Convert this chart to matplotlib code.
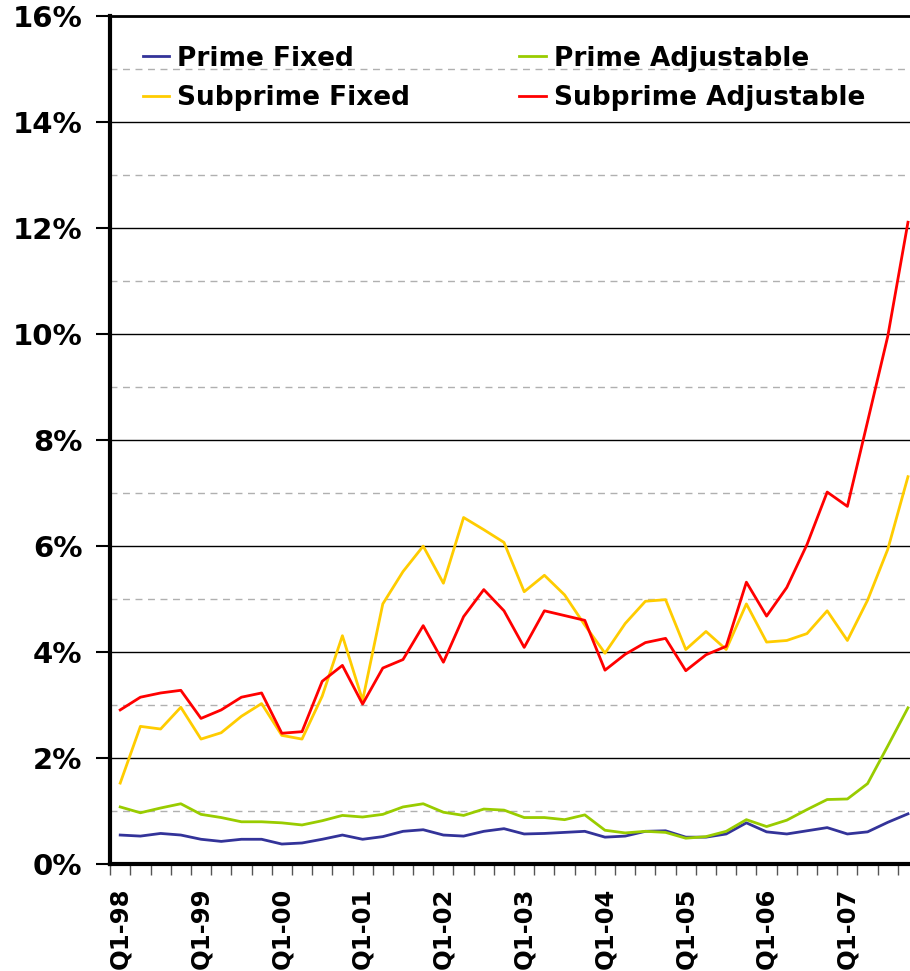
import numpy as np
import matplotlib
matplotlib.use("Agg")
import matplotlib.pyplot as plt
from matplotlib.ticker import FixedLocator, PercentFormatter

# quarterly delinquency rates (%), Q1-98 .. Q4-07
quarters = [f"Q{q}-{y % 100:02d}" for y in range(1998, 2008) for q in range(1, 5)]

prime_fixed = [0.55, 0.53, 0.58, 0.55, 0.47, 0.43, 0.47, 0.47, 0.38, 0.40,
               0.47, 0.55, 0.47, 0.52, 0.62, 0.65, 0.55, 0.53, 0.62, 0.67,
               0.57, 0.58, 0.60, 0.62, 0.51, 0.53, 0.62, 0.63, 0.51, 0.51,
               0.57, 0.78, 0.61, 0.57, 0.63, 0.69, 0.57, 0.61, 0.79, 0.95]
prime_adj = [1.08, 0.97, 1.06, 1.14, 0.94, 0.88, 0.80, 0.80, 0.78, 0.74,
             0.82, 0.92, 0.89, 0.94, 1.08, 1.14, 0.98, 0.92, 1.04, 1.02,
             0.88, 0.88, 0.84, 0.93, 0.64, 0.59, 0.62, 0.60, 0.49, 0.52,
             0.62, 0.84, 0.71, 0.83, 1.03, 1.22, 1.23, 1.52, 2.23, 2.95]
subprime_fixed = [1.53, 2.60, 2.55, 2.96, 2.36, 2.48, 2.79, 3.03, 2.43, 2.36,
                  3.17, 4.31, 3.09, 4.91, 5.52, 6.00, 5.30, 6.54, 6.31, 6.07,
                  5.14, 5.45, 5.08, 4.51, 3.98, 4.54, 4.96, 4.99, 4.05, 4.39,
                  4.05, 4.91, 4.19, 4.22, 4.35, 4.78, 4.22, 4.98, 5.94, 7.31]
subprime_adj = [2.91, 3.15, 3.23, 3.28, 2.75, 2.91, 3.15, 3.23, 2.47, 2.50,
                3.45, 3.75, 3.02, 3.70, 3.86, 4.50, 3.81, 4.67, 5.18, 4.78,
                4.09, 4.78, 4.69, 4.60, 3.66, 3.96, 4.18, 4.26, 3.65, 3.95,
                4.11, 5.32, 4.68, 5.22, 6.03, 7.02, 6.75, 8.35, 9.96, 12.11]

# order chosen so the 2-column legend reads row by row like the original
series = [("Prime Fixed", prime_fixed, "#333399"),
          ("Subprime Fixed", subprime_fixed, "#FFCC00"),
          ("Prime Adjustable", prime_adj, "#99CC00"),
          ("Subprime Adjustable", subprime_adj, "#FF0000")]

plt.rcParams['font.family'] = ['DejaVu Sans']
plt.rcParams['font.weight'] = 'bold'

fig = plt.figure(figsize=(9.1, 9.71), dpi=100)
ax = fig.add_axes([0.121, 0.110, 0.879, 0.8735])

x = np.arange(len(quarters))
for name, vals, col in series:
    ax.plot(x, vals, color=col, lw=2.0, label=name)

ax.set_ylim(0, 16)
ax.set_xlim(-0.5, 39.1)

# gridlines: solid at even percents, dashed at odd
for v in range(2, 16, 2):
    ax.axhline(v, color='black', lw=1.0, zorder=0)
for v in range(1, 16, 2):
    ax.axhline(v, color='#b0b0b0', lw=1.0, ls=(0, (5, 4)), zorder=0)

ax.yaxis.set_major_locator(FixedLocator(range(0, 17, 2)))
ax.yaxis.set_major_formatter(PercentFormatter(decimals=0))
ax.tick_params(axis='y', length=10, width=1.5, labelsize=21, pad=10)

ax.set_xticks(x[::4])
ax.set_xticklabels(quarters[::4], rotation=90, fontsize=17.5, fontweight='bold')
ax.xaxis.set_minor_locator(FixedLocator(np.arange(-0.5, 40, 1)))
ax.tick_params(axis='x', which='major', length=0, pad=17)
ax.tick_params(axis='x', which='minor', length=8, width=1.0, color='#555555')

for s in ['left', 'bottom']:
    ax.spines[s].set_linewidth(3)
ax.spines['top'].set_linewidth(2)
ax.spines['right'].set_visible(False)

leg = ax.legend(loc='upper left', bbox_to_anchor=(0.011, 0.993), ncol=2,
                frameon=False, fontsize=19, handlelength=1.0,
                handletextpad=0.3, columnspacing=4.15, labelspacing=0.5)
for t in leg.get_texts():
    t.set_fontweight('bold')

fig.savefig("out.png", dpi=100)
